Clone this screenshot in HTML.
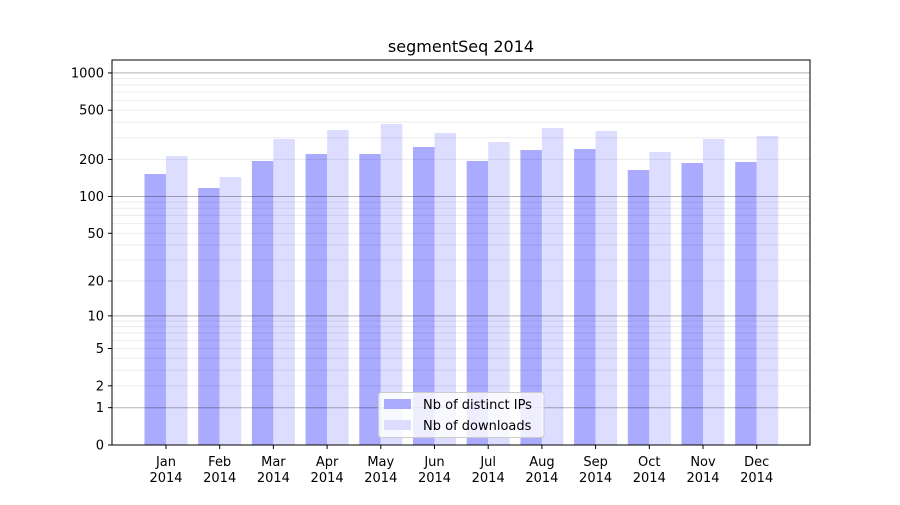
<!DOCTYPE html>
<html><head><meta charset="utf-8"><style>
body{margin:0;background:#fff;}
svg text{font-family:"DejaVu Sans","Liberation Sans",sans-serif;fill:#000;}
</style></head><body>
<svg id="s" width="900" height="500" xmlns="http://www.w3.org/2000/svg">
<rect width="900" height="500" fill="#fff"/>
<g id="g"></g>
</svg>
<script>
var g=document.getElementById('g'),h='';
function Y(v){return 445-124*Math.log10(v+1);}
var d=[[174,156],[188,177],[161,139],[154,130],[154,124],[147,133],[161,142],[150,128],[149,131],[170,152],[163,139],[162,136]];
var m=['Jan','Feb','Mar','Apr','May','Jun','Jul','Aug','Sep','Oct','Nov','Dec'];
for(var i=0;i<12;i++){var c=166+53.7*i;
 h+='<rect x="'+(c-21.5)+'" y="'+d[i][0]+'" width="21.5" height="'+(445-d[i][0])+'" fill="#aaaaff"/>';
 h+='<rect x="'+c+'" y="'+d[i][1]+'" width="21.5" height="'+(445-d[i][1])+'" fill="#ddddff"/>';
 h+='<line x1="'+c+'" x2="'+c+'" y1="445" y2="449" stroke="#000"/>';
 h+='<text x="'+c+'" y="466" font-size="13" text-anchor="middle">'+m[i]+'</text>';
 h+='<text x="'+c+'" y="482" font-size="13" text-anchor="middle">2014</text>';}
[2,3,4,5,6,7,8,9,20,30,40,50,60,70,80,90,200,300,400,500,600,700,800,900].forEach(function(v){
 var y=Y(v).toFixed(1);h+='<line x1="112" x2="810" y1="'+y+'" y2="'+y+'" stroke="#000" stroke-opacity="0.08" stroke-width="1"/>';});
[1,10,100,1000].forEach(function(v){
 var y=Y(v).toFixed(1);h+='<line x1="112" x2="810" y1="'+y+'" y2="'+y+'" stroke="#000" stroke-opacity="0.3" stroke-width="1"/>';});
[0,1,2,5,10,20,50,100,200,500,1000].forEach(function(v){var y=Y(v);
 h+='<line x1="108" x2="112" y1="'+y+'" y2="'+y+'" stroke="#000"/>';
 h+='<text x="104" y="'+(y+4.5)+'" font-size="13" text-anchor="end">'+v+'</text>';});
h+='<rect x="112" y="60" width="698" height="385" fill="none" stroke="#000" stroke-width="1"/>';
h+='<text x="461" y="52" font-size="16" text-anchor="middle">segmentSeq 2014</text>';
h+='<rect x="378.5" y="392.5" width="165.5" height="45" rx="3" fill="#fff" fill-opacity="0.8" stroke="#ccc"/>';
h+='<rect x="384" y="399" width="27" height="10" fill="#aaaaff"/>';
h+='<rect x="384" y="420" width="27" height="10" fill="#ddddff"/>';
h+='<text x="423" y="409" font-size="13">Nb of distinct IPs</text>';
h+='<text x="423" y="430" font-size="13">Nb of downloads</text>';
g.innerHTML=h;
</script>
</body></html>
